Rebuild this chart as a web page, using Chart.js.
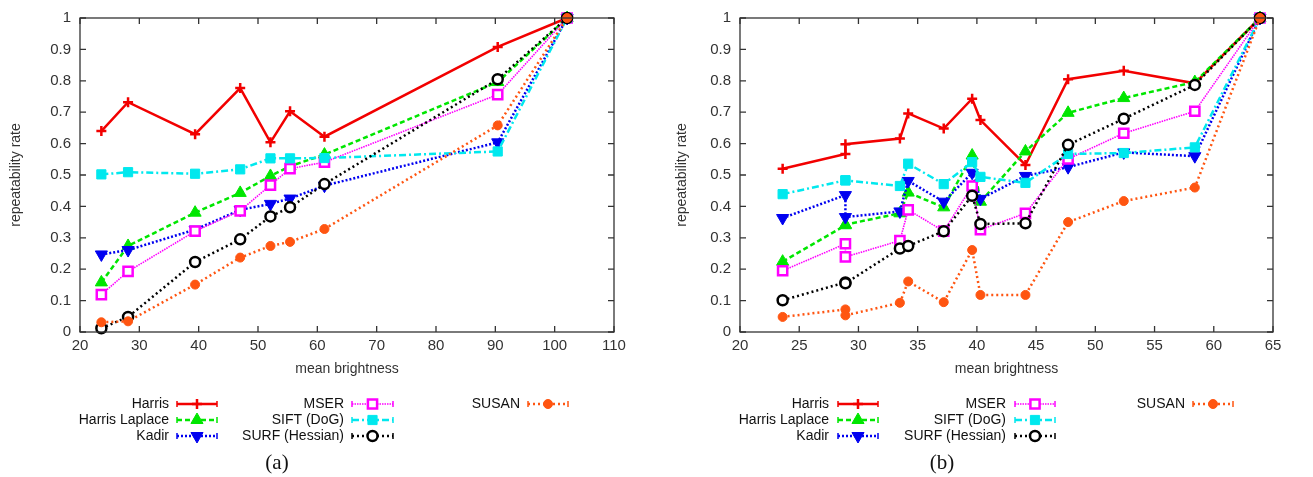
<!DOCTYPE html>
<html lang="en">
<head>
<meta charset="UTF-8">
<title>Repeatability rate vs mean brightness</title>
<script src="https://cdn.jsdelivr.net/npm/chart.js"></script>
<style>
  body { margin: 0; background: #fff; }
  #wrap { position: relative; width: 1313px; height: 477px; }
  canvas { position: absolute; top: 0; }
  #chartA { left: 0; }
  #chartB { left: 656px; }
</style>
</head>
<body>
<div id="wrap">
  <canvas id="chartA" width="656" height="477"></canvas>
  <canvas id="chartB" width="657" height="477"></canvas>
</div>
<script>
const seriesNames = ['Harris', 'Harris Laplace', 'Kadir', 'MSER', 'SIFT (DoG)', 'SURF (Hessian)', 'SUSAN'];

// plot (a)
const xA = [23.6, 28.1, 39.4, 47.0, 52.1, 55.4, 61.2, 90.4, 102.1];
const harrisA  = [0.640, 0.732, 0.630, 0.777, 0.604, 0.703, 0.622, 0.908, 1.0];
const laplaceA = [0.158, 0.274, 0.380, 0.443, 0.497, 0.528, 0.565, 0.796, 1.0];
const kadirA   = [0.247, 0.261, 0.326, 0.389, 0.408, 0.425, 0.466, 0.604, 1.0];
const mserA    = [0.119, 0.193, 0.321, 0.386, 0.468, 0.520, 0.541, 0.756, 1.0];
const siftA    = [0.502, 0.509, 0.504, 0.518, 0.553, 0.553, 0.554, 0.575, 1.0];
const surfA    = [0.012, 0.048, 0.223, 0.295, 0.368, 0.397, 0.471, 0.805, 1.0];
const susanA   = [0.031, 0.034, 0.151, 0.237, 0.274, 0.287, 0.328, 0.658, 1.0];

// plot (b)
const xB = [23.6, 28.9, 28.9, 33.5, 34.2, 37.2, 39.6, 40.3, 44.1, 47.7, 52.4, 58.4, 63.9];
const harrisB  = [0.520, 0.567, 0.598, 0.616, 0.696, 0.648, 0.743, 0.675, 0.532, 0.805, 0.832, 0.792, 1.0];
const laplaceB = [0.224, 0.340, 0.342, 0.378, 0.444, 0.397, 0.562, 0.415, 0.575, 0.698, 0.745, 0.796, 1.0];
const kadirB   = [0.363, 0.436, 0.366, 0.384, 0.481, 0.415, 0.507, 0.424, 0.497, 0.525, 0.572, 0.560, 1.0];
const mserB    = [0.195, 0.281, 0.239, 0.291, 0.389, 0.321, 0.465, 0.326, 0.378, 0.551, 0.633, 0.703, 1.0];
const siftB    = [0.439, 0.483, 0.483, 0.465, 0.536, 0.471, 0.541, 0.494, 0.475, 0.567, 0.570, 0.588, 1.0];
const surfB    = [0.101, 0.158, 0.155, 0.266, 0.274, 0.321, 0.434, 0.344, 0.346, 0.596, 0.679, 0.787, 1.0];
const susanB   = [0.048, 0.072, 0.053, 0.093, 0.161, 0.095, 0.261, 0.118, 0.118, 0.350, 0.417, 0.460, 1.0];

const yTicks = [0, 0.1, 0.2, 0.3, 0.4, 0.5, 0.6, 0.7, 0.8, 0.9, 1];

const styles = [
  { color: '#f20000', dash: [],           width: 2.5, point: 'cross',    rot: 0,   r: 5,   fill: '#f20000', bw: 2.5 },
  { color: '#00e600', dash: [5, 3],       width: 2.5, point: 'triangle', rot: 0,   r: 7,   fill: '#00e600', bw: 1 },
  { color: '#0000f0', dash: [2, 2],       width: 2.5, point: 'triangle', rot: 180, r: 7,   fill: '#0000f0', bw: 1 },
  { color: '#ff00ff', dash: [1.5, 1],     width: 1.6, point: 'rect',     rot: 0,   r: 6.5, fill: '#ffffff', bw: 2.5 },
  { color: '#00e8ee', dash: [7, 3, 2, 3], width: 2.5, point: 'rect',     rot: 0,   r: 6.5, fill: '#00e8ee', bw: 1 },
  { color: '#000000', dash: [2, 3],       width: 2.5, point: 'circle',   rot: 0,   r: 5,   fill: '#ffffff', bw: 2.5 },
  { color: '#ff5511', dash: [2, 3],       width: 2.5, point: 'circle',   rot: 0,   r: 4.5, fill: '#ff5511', bw: 1 }
];

const FONT = '"Liberation Sans", Arial, sans-serif';
const INK = '#333333';

function makeDatasets(xs, series) {
  return series.map((ys, i) => {
    const s = styles[i];
    return {
      label: seriesNames[i],
      data: xs.map((x, k) => ({ x: x, y: ys[k] })),
      borderColor: s.color,
      borderWidth: s.width,
      borderDash: s.dash,
      backgroundColor: s.fill,
      pointStyle: s.point,
      pointRotation: s.rot,
      pointRadius: s.r,
      pointBorderColor: s.color,
      pointBackgroundColor: s.fill,
      pointBorderWidth: s.bw,
      tension: 0,
      fill: false,
      order: 7 - i
    };
  });
}

function drawMarker(ctx, s, x, y) {
  ctx.save();
  ctx.setLineDash([]);
  ctx.strokeStyle = s.color;
  ctx.fillStyle = s.fill;
  ctx.lineWidth = s.bw;
  const r = s.r;
  ctx.beginPath();
  if (s.point === 'cross') {
    ctx.moveTo(x - r, y); ctx.lineTo(x + r, y);
    ctx.moveTo(x, y - r); ctx.lineTo(x, y + r);
    ctx.stroke();
  } else if (s.point === 'triangle') {
    const d = s.rot ? -1 : 1;
    ctx.moveTo(x, y - d * r);
    ctx.lineTo(x - r * 0.866, y + d * r * 0.5);
    ctx.lineTo(x + r * 0.866, y + d * r * 0.5);
    ctx.closePath(); ctx.fill(); ctx.stroke();
  } else if (s.point === 'rect') {
    const h = r * Math.SQRT1_2;
    ctx.rect(x - h, y - h, 2 * h, 2 * h); ctx.fill(); ctx.stroke();
  } else {
    ctx.arc(x, y, r, 0, Math.PI * 2); ctx.fill(); ctx.stroke();
  }
  ctx.restore();
}

// frame with inward ticks on all four sides
const framePlugin = {
  id: 'frame',
  afterDatasetsDraw(chart) {
    const { ctx, chartArea: a, scales } = chart;
    ctx.save();
    ctx.strokeStyle = INK;
    ctx.lineWidth = 1.3;
    ctx.setLineDash([]);
    ctx.strokeRect(a.left, a.top, a.right - a.left, a.bottom - a.top);
    const t = 6;
    ctx.beginPath();
    scales.x.ticks.forEach(tk => {
      const px = scales.x.getPixelForValue(tk.value);
      ctx.moveTo(px, a.bottom); ctx.lineTo(px, a.bottom - t);
      ctx.moveTo(px, a.top); ctx.lineTo(px, a.top + t);
    });
    scales.y.ticks.forEach(tk => {
      const py = scales.y.getPixelForValue(tk.value);
      ctx.moveTo(a.left, py); ctx.lineTo(a.left + t, py);
      ctx.moveTo(a.right, py); ctx.lineTo(a.right - t, py);
    });
    ctx.stroke();
    ctx.restore();
  }
};

// gnuplot-like key below the plot and the sub-caption
const keyPlugin = {
  id: 'key',
  afterDraw(chart, args, opts) {
    const ctx = chart.ctx;
    ctx.save();
    ctx.font = '14px ' + FONT;
    ctx.textAlign = 'right';
    ctx.textBaseline = 'middle';
    opts.cols.forEach(col => {
      col.items.forEach((idx, row) => {
        const y = opts.rows[row];
        const s = styles[idx];
        ctx.fillStyle = '#111';
        ctx.fillText(seriesNames[idx], col.text, y);
        ctx.strokeStyle = s.color;
        ctx.lineWidth = s.width;
        ctx.setLineDash(s.dash);
        ctx.beginPath();
        ctx.moveTo(col.l, y); ctx.lineTo(col.r, y);
        ctx.stroke();
        ctx.setLineDash([]);
        ctx.lineWidth = 1.5;
        ctx.beginPath();
        ctx.moveTo(col.l, y - 3); ctx.lineTo(col.l, y + 3);
        ctx.moveTo(col.r, y - 3); ctx.lineTo(col.r, y + 3);
        ctx.stroke();
        drawMarker(ctx, s, (col.l + col.r) / 2, y);
      });
    });
    ctx.font = '21px "Liberation Serif", "DejaVu Serif", serif';
    ctx.textAlign = 'center';
    ctx.fillStyle = '#111';
    ctx.fillText(opts.caption, opts.capX, opts.capY);
    ctx.restore();
  }
};

function makeChart(id, xs, series, cfg) {
  return new Chart(document.getElementById(id), {
    type: 'line',
    data: { datasets: makeDatasets(xs, series) },
    plugins: [framePlugin, keyPlugin],
    options: {
      responsive: false,
      animation: false,
      clip: false,
      layout: { padding: { left: cfg.padLeft, right: cfg.padRight, top: 14, bottom: 95 } },
      scales: {
        x: {
          type: 'linear', min: cfg.xMin, max: cfg.xMax,
          ticks: { stepSize: cfg.xStep, color: INK, font: { family: FONT, size: 15 }, padding: 5, maxRotation: 0 },
          grid: { display: false, drawTicks: false },
          border: { display: false },
          title: { display: true, text: 'mean brightness', color: INK, font: { family: FONT, size: 14 }, padding: { top: 7 } },
          afterFit: s => { s.height = 50; }
        },
        y: {
          min: 0, max: 1,
          afterBuildTicks: s => { s.ticks = yTicks.map(v => ({ value: v })); },
          ticks: {
            color: INK, font: { family: FONT, size: 15 }, padding: 9,
            callback: v => (v === 0 || v === 1) ? String(v) : v.toFixed(1)
          },
          grid: { display: false, drawTicks: false },
          border: { display: false },
          title: { display: true, text: 'repeatability rate', color: INK, font: { family: FONT, size: 14 }, padding: { bottom: 0 } },
          afterFit: s => { s.width = cfg.axisW; }
        }
      },
      plugins: {
        legend: { display: false },
        tooltip: { enabled: false },
        key: cfg.key
      }
    }
  });
}

makeChart('chartA', xA, [harrisA, laplaceA, kadirA, mserA, siftA, surfA, susanA], {
  xMin: 20, xMax: 110, xStep: 10, padLeft: 4, axisW: 76, padRight: 42,
  key: {
    rows: [404, 420, 436],
    cols: [
      { text: 169, l: 177, r: 217, items: [0, 1, 2] },
      { text: 344, l: 352, r: 393, items: [3, 4, 5] },
      { text: 520, l: 528, r: 568, items: [6] }
    ],
    caption: '(a)', capX: 277, capY: 463
  }
});

makeChart('chartB', xB, [harrisB, laplaceB, kadirB, mserB, siftB, surfB, susanB], {
  xMin: 20, xMax: 65, xStep: 5, padLeft: 14, axisW: 70, padRight: 40,
  key: {
    rows: [404, 420, 436],
    cols: [
      { text: 829 - 656, l: 838 - 656, r: 878 - 656, items: [0, 1, 2] },
      { text: 1006 - 656, l: 1015 - 656, r: 1055 - 656, items: [3, 4, 5] },
      { text: 1185 - 656, l: 1193 - 656, r: 1233 - 656, items: [6] }
    ],
    caption: '(b)', capX: 942 - 656, capY: 463
  }
});
</script>
</body>
</html>
